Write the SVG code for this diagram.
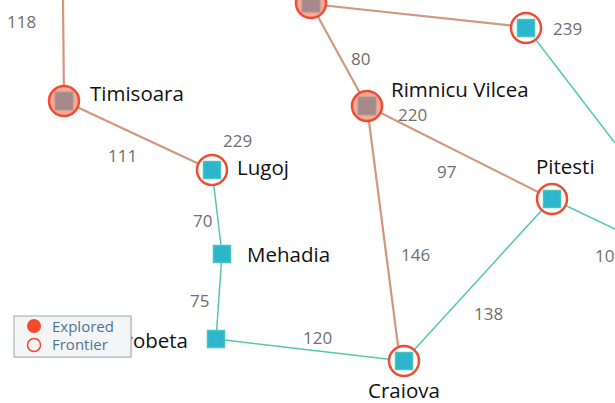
<svg xmlns="http://www.w3.org/2000/svg" width="615" height="403" viewBox="0 0 615 403">
<style>
.ex{stroke:#d2977f;stroke-width:2.2;fill:none}
.fr{stroke:#52c8b3;stroke-width:1.5;fill:none}
.ringE{fill:#f7a897;stroke:#ee4c33;stroke-width:2.5}
.ringF{fill:#fff;stroke:#ee4c33;stroke-width:2.5}
.sqE{fill:#a5898b;stroke:#b39a92;stroke-width:1}
.sqF{fill:#2db6cb;stroke:#45c6b6;stroke-width:1.5}
.nl{font-family:"Open Sans","Liberation Sans",sans-serif;font-size:20.5px;fill:#111}
.el{font-family:"Open Sans","Liberation Sans",sans-serif;font-size:17px;fill:#6f6f6f}
.lg{font-family:"Open Sans","Liberation Sans",sans-serif;font-size:15px;fill:#4f7592}
</style>
<rect width="615" height="403" fill="#fff"/>
<g id="connectors">
<line class="ex" x1="63" y1="0" x2="64" y2="101"/>
<line class="ex" x1="64" y1="101" x2="212" y2="170"/>
<line class="fr" x1="212" y1="170" x2="222" y2="254"/>
<line class="fr" x1="222" y1="254" x2="216" y2="339"/>
<line class="fr" x1="216" y1="339" x2="404" y2="361"/>
<line class="ex" x1="311" y1="4" x2="367" y2="106"/>
<line class="ex" x1="311" y1="4" x2="526" y2="27"/>
<line class="ex" x1="367" y1="106" x2="552" y2="199"/>
<line class="ex" x1="367" y1="106" x2="400" y2="361"/>
<line class="fr" x1="552" y1="199" x2="404" y2="361"/>
<line class="fr" x1="526" y1="27" x2="615" y2="143"/>
<line class="fr" x1="552" y1="199" x2="615" y2="229"/>
</g>
<g id="edge-labels">
<text class="el" x="7" y="28">118</text>
<text class="el" x="108" y="162">111</text>
<text class="el" x="223" y="147">229</text>
<text class="el" x="351" y="65">80</text>
<text class="el" x="398" y="121">220</text>
<text class="el" x="553" y="35">239</text>
<text class="el" x="437" y="178">97</text>
<text class="el" x="193" y="227">70</text>
<text class="el" x="190" y="307">75</text>
<text class="el" x="401" y="261">146</text>
<text class="el" x="474" y="320">138</text>
<text class="el" x="303" y="344">120</text>
<text class="el" x="595" y="262">10</text>
</g>
<g id="sibiu">
<circle class="ringE" cx="311" cy="3" r="15"/>
<rect class="sqE" x="302" y="-6" width="18" height="18"/>
</g>
<g id="timisoara">
<circle class="ringE" cx="64" cy="101" r="15"/>
<rect class="sqE" x="55" y="92" width="18" height="18"/>
<text class="nl" x="90" y="101">Timisoara</text>
</g>
<g id="lugoj">
<circle class="ringF" cx="212" cy="170" r="15"/>
<rect class="sqF" x="203.5" y="161.5" width="17" height="17"/>
<text class="nl" x="237" y="175">Lugoj</text>
</g>
<g id="mehadia">
<rect class="sqF" x="213.5" y="245.5" width="17" height="17"/>
<text class="nl" x="247" y="262">Mehadia</text>
</g>
<g id="drobeta">
<rect class="sqF" x="207.5" y="330.5" width="17" height="17"/>
<text class="nl" x="188" y="348" text-anchor="end">Drobeta</text>
</g>
<g id="rimnicu-vilcea">
<circle class="ringE" cx="367" cy="106" r="15"/>
<rect class="sqE" x="358" y="97" width="18" height="18"/>
<text class="nl" x="391" y="97">Rimnicu Vilcea</text>
</g>
<g id="fagaras">
<circle class="ringF" cx="526" cy="28" r="15"/>
<rect class="sqF" x="517.5" y="19.5" width="17" height="17"/>
</g>
<g id="pitesti">
<circle class="ringF" cx="552" cy="199" r="15"/>
<rect class="sqF" x="543.5" y="190.5" width="17" height="17"/>
<text class="nl" x="536" y="174">Pitesti</text>
</g>
<g id="craiova">
<circle class="ringF" cx="404" cy="361" r="15"/>
<rect class="sqF" x="395.5" y="352.5" width="17" height="17"/>
<text class="nl" x="404" y="398" text-anchor="middle">Craiova</text>
</g>
<g id="legend">
<rect x="15" y="317" width="117" height="41" fill="#b8bec4" opacity="0.4"/>
<rect x="14" y="316" width="117" height="41" fill="#f3f5f7" stroke="#9ea8b0" stroke-width="1"/>
<circle cx="34" cy="326" r="7" fill="#f5492d"/>
<circle cx="34" cy="345" r="6.5" fill="none" stroke="#f5492d" stroke-width="1.5"/>
<text class="lg" x="52" y="332">Explored</text>
<text class="lg" x="52" y="350">Frontier</text>
</g>
</svg>
